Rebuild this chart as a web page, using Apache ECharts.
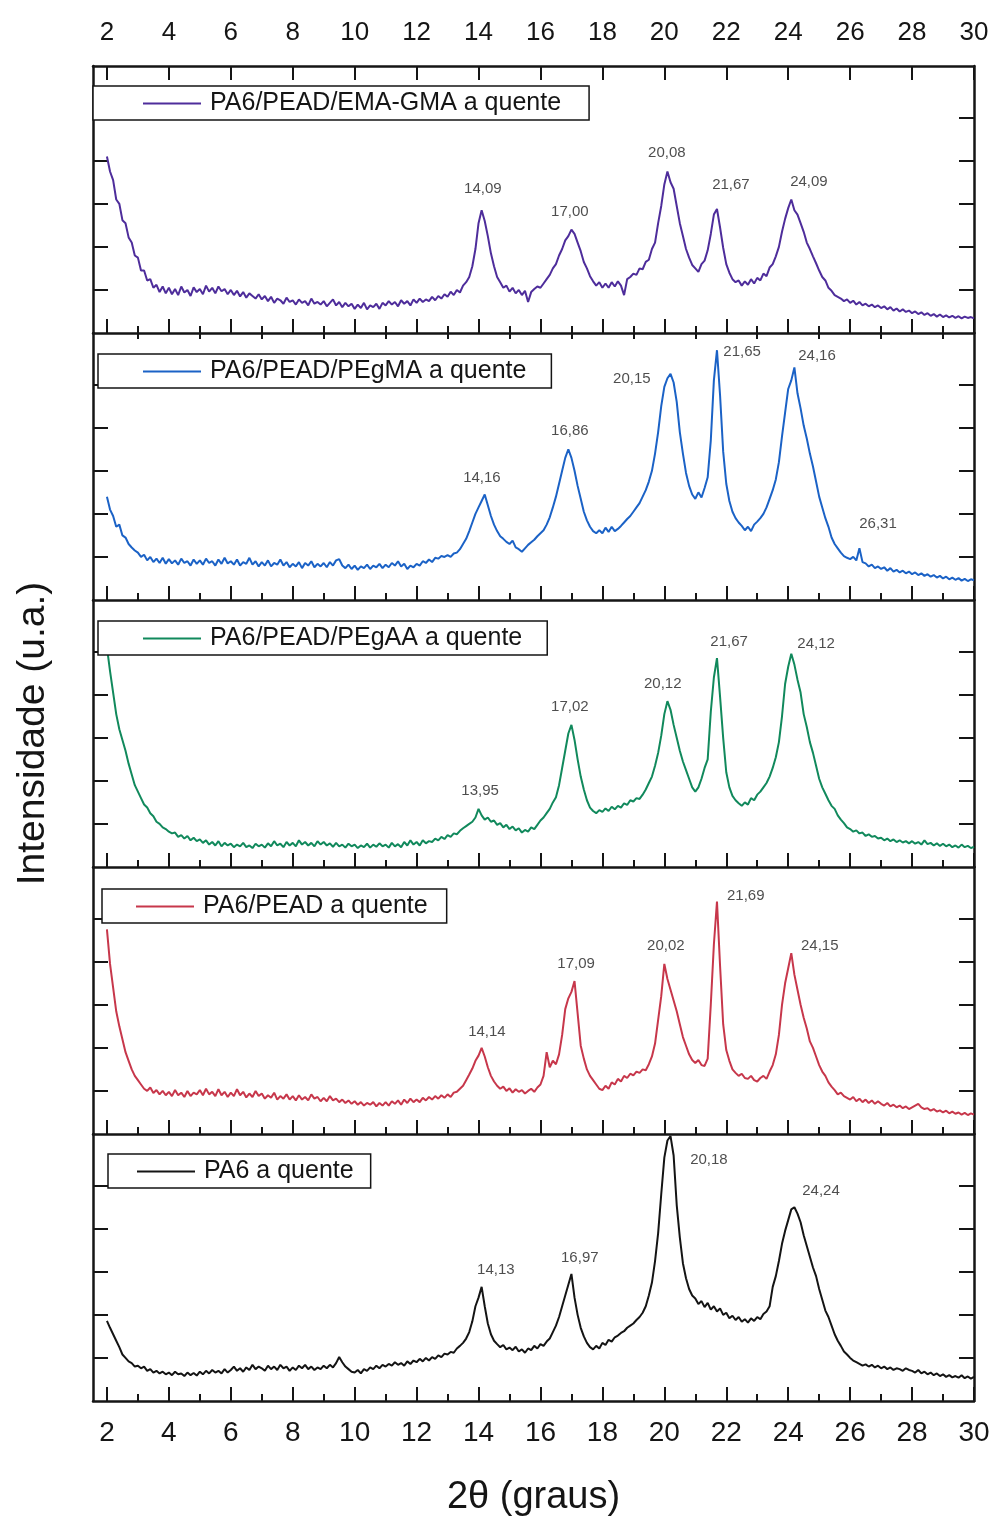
<!DOCTYPE html>
<html>
<head>
<meta charset="utf-8">
<title>DRX PA6 / PEAD</title>
<script src="https://cdn.jsdelivr.net/npm/echarts@6/dist/echarts.min.js"></script>
<style>
  html, body { margin: 0; padding: 0; background: #fff; }
  #chart { width: 1001px; height: 1521px; }
</style>
</head>
<body>
<div id="chart"></div>
<script>
// 2theta sampling of every pattern: 2.0, 2.1 ... 30.0
var thetaStart = 2.0;
var thetaStep = 0.1;

var seriesNames = [
    'PA6/PEAD/EMA-GMA a quente',
    'PA6/PEAD/PEgMA a quente',
    'PA6/PEAD/PEgAA a quente',
    'PA6/PEAD a quente',
    'PA6 a quente'
];

// intensities (u.a.), one value per 0.1 deg, rows = 2,3,...,29 deg, then 30
var emaGma = [
    4.10, 3.75, 3.55, 3.10, 3.00, 2.62, 2.55, 2.22, 2.10, 1.80,
    1.75, 1.45, 1.45, 1.22, 1.25, 1.05, 1.12, 0.95, 1.08, 0.92,
    1.05, 0.90, 1.02, 0.88, 1.08, 0.94, 1.00, 0.86, 1.06, 0.95,
    1.02, 0.90, 1.10, 0.96, 1.05, 0.92, 1.08, 0.97, 1.02, 0.90,
    1.00, 0.88, 0.98, 0.85, 0.95, 0.82, 0.92, 0.86, 0.80, 0.90,
    0.78, 0.86, 0.74, 0.84, 0.70, 0.80, 0.76, 0.68, 0.82, 0.72,
    0.76, 0.66, 0.78, 0.70, 0.74, 0.64, 0.80, 0.68, 0.72, 0.66,
    0.74, 0.62, 0.70, 0.78, 0.64, 0.72, 0.60, 0.70, 0.62, 0.68,
    0.56, 0.66, 0.58, 0.70, 0.55, 0.64, 0.60, 0.68, 0.56, 0.70,
    0.64, 0.74, 0.66, 0.72, 0.62, 0.76, 0.68, 0.74, 0.64, 0.78,
    0.70, 0.80, 0.72, 0.78, 0.74, 0.84, 0.76, 0.86, 0.80, 0.90,
    0.84, 0.96, 0.88, 1.00, 0.94, 1.10, 1.18, 1.30, 1.55, 1.95,
    2.55, 2.85, 2.60, 2.25, 1.85, 1.55, 1.30, 1.18, 1.05, 1.10,
    0.96, 1.05, 0.92, 1.00, 0.88, 0.98, 0.72, 0.95, 1.02, 1.08,
    1.05, 1.15, 1.25, 1.35, 1.50, 1.60, 1.80, 1.95, 2.15, 2.25,
    2.40, 2.30, 2.10, 1.90, 1.65, 1.50, 1.32, 1.20, 1.10, 1.18,
    1.05, 1.15, 1.05, 1.18, 1.08, 1.20, 1.10, 0.88, 1.25, 1.30,
    1.38, 1.35, 1.50, 1.48, 1.65, 1.70, 1.95, 2.10, 2.55, 2.95,
    3.45, 3.75, 3.50, 3.35, 2.95, 2.55, 2.25, 1.95, 1.75, 1.58,
    1.50, 1.42, 1.60, 1.68, 1.92, 2.30, 2.75, 2.88, 2.45, 1.98,
    1.60, 1.40, 1.25, 1.18, 1.22, 1.10, 1.20, 1.12, 1.25, 1.15,
    1.28, 1.22, 1.38, 1.32, 1.52, 1.60, 1.78, 2.00, 2.35, 2.65,
    2.90, 3.10, 2.85, 2.75, 2.55, 2.35, 2.10, 1.95, 1.78, 1.62,
    1.45, 1.30, 1.22, 1.05, 0.98, 0.88, 0.84, 0.80, 0.74, 0.78,
    0.70, 0.75, 0.66, 0.72, 0.64, 0.68, 0.62, 0.66, 0.60, 0.64,
    0.58, 0.62, 0.55, 0.60, 0.52, 0.57, 0.50, 0.55, 0.49, 0.52,
    0.46, 0.50, 0.44, 0.48, 0.42, 0.46, 0.40, 0.44, 0.38, 0.43,
    0.37, 0.41, 0.36, 0.40, 0.35, 0.39, 0.34, 0.38, 0.35, 0.37,
    0.34
];

var peGma = [
    2.40, 2.10, 1.95, 1.70, 1.75, 1.50, 1.45, 1.30, 1.22, 1.15,
    1.10, 1.00, 1.05, 0.92, 1.00, 0.88, 0.96, 0.86, 0.98, 0.84,
    0.95, 0.85, 0.92, 0.82, 0.96, 0.86, 0.90, 0.80, 0.94, 0.84,
    0.92, 0.82, 0.96, 0.86, 0.90, 0.80, 0.94, 0.84, 0.98, 0.85,
    0.90, 0.82, 0.94, 0.80, 0.88, 0.84, 0.98, 0.82, 0.90, 0.78,
    0.88, 0.80, 0.92, 0.78, 0.86, 0.82, 0.94, 0.80, 0.88, 0.76,
    0.84, 0.78, 0.88, 0.74, 0.86, 0.80, 0.90, 0.76, 0.84, 0.78,
    0.86, 0.76, 0.88, 0.80, 0.92, 0.95, 0.80, 0.74, 0.82, 0.72,
    0.80, 0.70, 0.78, 0.74, 0.82, 0.72, 0.80, 0.76, 0.84, 0.74,
    0.82, 0.76, 0.86, 0.80, 0.90, 0.78, 0.84, 0.72, 0.80, 0.76,
    0.84, 0.80, 0.90, 0.86, 0.94, 0.88, 0.98, 0.96, 1.02, 1.00,
    1.04, 1.00, 1.08, 1.10, 1.18, 1.30, 1.42, 1.60, 1.80, 2.00,
    2.15, 2.30, 2.45, 2.20, 1.95, 1.75, 1.60, 1.48, 1.42, 1.35,
    1.30, 1.38, 1.22, 1.18, 1.12, 1.20, 1.28, 1.34, 1.40, 1.48,
    1.55, 1.62, 1.75, 1.92, 2.15, 2.40, 2.70, 3.00, 3.30, 3.50,
    3.30, 3.00, 2.65, 2.35, 2.05, 1.85, 1.70, 1.60, 1.55, 1.62,
    1.55, 1.68, 1.58, 1.70, 1.60, 1.65, 1.72, 1.80, 1.88, 1.95,
    2.05, 2.15, 2.25, 2.40, 2.55, 2.75, 3.00, 3.40, 3.90, 4.50,
    4.95, 5.15, 5.25, 5.05, 4.60, 3.90, 3.40, 2.95, 2.65, 2.45,
    2.35, 2.50, 2.38, 2.60, 2.85, 3.70, 5.10, 5.80, 4.75, 3.45,
    2.70, 2.30, 2.05, 1.90, 1.80, 1.72, 1.62, 1.70, 1.60, 1.75,
    1.82, 1.90, 2.00, 2.15, 2.35, 2.55, 2.80, 3.20, 3.80, 4.35,
    4.90, 5.10, 5.40, 4.80, 4.45, 4.05, 3.75, 3.40, 3.10, 2.75,
    2.40, 2.15, 1.90, 1.70, 1.45, 1.30, 1.20, 1.10, 1.02, 0.98,
    0.95, 1.00, 0.92, 1.20, 0.88, 0.85, 0.78, 0.82, 0.74, 0.78,
    0.72, 0.76, 0.68, 0.74, 0.66, 0.70, 0.64, 0.68, 0.62, 0.66,
    0.60, 0.64, 0.58, 0.62, 0.56, 0.60, 0.54, 0.58, 0.52, 0.56,
    0.50, 0.54, 0.48, 0.52, 0.47, 0.51, 0.45, 0.49, 0.44, 0.48,
    0.46
];

var peGaa = [
    5.10, 4.55, 4.05, 3.55, 3.20, 2.95, 2.70, 2.40, 2.15, 1.90,
    1.75, 1.60, 1.45, 1.38, 1.25, 1.18, 1.05, 1.00, 0.92, 0.88,
    0.82, 0.78, 0.80, 0.70, 0.74, 0.66, 0.72, 0.62, 0.68, 0.60,
    0.64, 0.56, 0.62, 0.52, 0.58, 0.50, 0.60, 0.48, 0.56, 0.50,
    0.54, 0.46, 0.52, 0.48, 0.56, 0.46, 0.50, 0.44, 0.54, 0.48,
    0.52, 0.45, 0.55, 0.48, 0.60, 0.50, 0.54, 0.46, 0.58, 0.50,
    0.56, 0.48, 0.62, 0.52, 0.58, 0.50, 0.56, 0.48, 0.60, 0.52,
    0.58, 0.50, 0.55, 0.47, 0.56, 0.48, 0.52, 0.45, 0.54, 0.48,
    0.52, 0.44, 0.50, 0.46, 0.54, 0.45, 0.52, 0.47, 0.55, 0.48,
    0.52, 0.45, 0.56, 0.48, 0.53, 0.46, 0.58, 0.50, 0.62, 0.52,
    0.58, 0.50, 0.62, 0.55, 0.60, 0.58, 0.66, 0.62, 0.70, 0.65,
    0.74, 0.70, 0.78, 0.76, 0.84, 0.90, 0.95, 1.00, 1.05, 1.15,
    1.35, 1.20, 1.10, 1.15, 1.05, 1.08, 0.98, 1.02, 0.92, 0.98,
    0.88, 0.94, 0.85, 0.90, 0.80, 0.86, 0.82, 0.92, 0.88, 0.98,
    1.08, 1.15, 1.25, 1.35, 1.50, 1.62, 1.90, 2.30, 2.70, 3.10,
    3.30, 2.95, 2.50, 2.10, 1.80, 1.55, 1.38, 1.30, 1.25, 1.32,
    1.28, 1.36, 1.30, 1.40, 1.34, 1.42, 1.38, 1.48, 1.44, 1.55,
    1.52, 1.60, 1.58, 1.68, 1.80, 1.95, 2.10, 2.35, 2.65, 3.05,
    3.55, 3.85, 3.65, 3.30, 3.00, 2.70, 2.45, 2.25, 2.05, 1.85,
    1.75, 1.85, 2.05, 2.30, 2.50, 3.60, 4.40, 4.85, 3.95, 3.00,
    2.20, 1.85, 1.65, 1.55, 1.48, 1.42, 1.50, 1.45, 1.60, 1.55,
    1.68, 1.75, 1.85, 1.95, 2.10, 2.30, 2.55, 2.90, 3.50, 4.25,
    4.65, 4.95, 4.70, 4.35, 4.05, 3.55, 3.25, 2.90, 2.65, 2.35,
    2.05, 1.85, 1.70, 1.55, 1.42, 1.35, 1.20, 1.10, 1.02, 0.92,
    0.88, 0.82, 0.85, 0.78, 0.80, 0.72, 0.76, 0.70, 0.72, 0.66,
    0.68, 0.62, 0.66, 0.60, 0.64, 0.58, 0.62, 0.57, 0.60, 0.55,
    0.60, 0.54, 0.58, 0.52, 0.62, 0.53, 0.56, 0.50, 0.55, 0.49,
    0.54, 0.48, 0.52, 0.46, 0.50, 0.45, 0.52, 0.46, 0.49, 0.44,
    0.47
];

var pa6Pead = [
    4.75, 3.95, 3.40, 2.85, 2.50, 2.20, 1.90, 1.70, 1.50, 1.35,
    1.25, 1.15, 1.05, 1.00, 1.08, 0.95, 1.02, 0.92, 1.00, 0.90,
    0.98, 0.88, 1.02, 0.90, 0.96, 0.86, 1.00, 0.88, 0.96, 0.92,
    1.02, 0.90, 1.05, 0.92, 0.98, 0.88, 1.04, 0.90, 0.98, 0.86,
    0.96, 0.88, 1.04, 0.90, 0.98, 0.85, 0.94, 0.86, 1.00, 0.88,
    0.94, 0.82, 0.90, 0.84, 0.96, 0.80, 0.88, 0.82, 0.92, 0.80,
    0.88, 0.78, 0.90, 0.80, 0.86, 0.78, 0.92, 0.82, 0.86, 0.76,
    0.84, 0.76, 0.88, 0.78, 0.82, 0.74, 0.80, 0.72, 0.78, 0.70,
    0.76, 0.68, 0.74, 0.66, 0.72, 0.68, 0.74, 0.64, 0.72, 0.66,
    0.74, 0.66, 0.76, 0.70, 0.78, 0.68, 0.80, 0.72, 0.82, 0.74,
    0.80, 0.74, 0.84, 0.78, 0.86, 0.80, 0.88, 0.82, 0.90, 0.84,
    0.92, 0.86, 0.96, 0.98, 1.05, 1.12, 1.25, 1.38, 1.52, 1.70,
    1.82, 2.00, 1.80, 1.55, 1.35, 1.22, 1.12, 1.05, 1.10, 1.00,
    1.06, 0.96, 1.04, 0.98, 1.02, 0.94, 1.00, 1.05, 0.98, 1.08,
    1.15, 1.35, 1.90, 1.55, 1.70, 1.62, 1.85, 2.30, 2.90, 3.15,
    3.30, 3.55, 2.80, 2.05, 1.75, 1.50, 1.35, 1.25, 1.15, 1.05,
    1.02, 1.12, 1.05, 1.20, 1.15, 1.28, 1.22, 1.35, 1.30, 1.40,
    1.36, 1.45, 1.42, 1.50, 1.48, 1.62, 1.80, 2.10, 2.65, 3.20,
    3.95, 3.60, 3.35, 3.10, 2.85, 2.55, 2.25, 2.05, 1.85, 1.72,
    1.65, 1.72, 1.60, 1.58, 1.75, 3.00, 4.40, 5.40, 3.90, 2.55,
    1.95, 1.70, 1.50, 1.42, 1.35, 1.40, 1.30, 1.28, 1.35, 1.25,
    1.22, 1.30, 1.35, 1.28, 1.45, 1.60, 1.85, 2.30, 3.00, 3.50,
    3.85, 4.20, 3.70, 3.35, 3.00, 2.70, 2.45, 2.15, 2.00, 1.80,
    1.60, 1.45, 1.35, 1.20, 1.10, 1.02, 0.92, 0.96, 0.88, 0.84,
    0.80, 0.86, 0.76, 0.82, 0.74, 0.80, 0.72, 0.78, 0.70, 0.76,
    0.70, 0.66, 0.72, 0.64, 0.68, 0.62, 0.66, 0.60, 0.64, 0.58,
    0.62, 0.66, 0.70, 0.62, 0.58, 0.60, 0.54, 0.58, 0.52, 0.55,
    0.50, 0.54, 0.48, 0.52, 0.47, 0.50, 0.45, 0.49, 0.44, 0.48,
    0.45
];

var pa6 = [
    1.86, 1.70, 1.55, 1.40, 1.25, 1.08, 1.00, 0.92, 0.88, 0.80,
    0.82, 0.76, 0.80, 0.70, 0.74, 0.66, 0.70, 0.64, 0.68, 0.62,
    0.66, 0.60, 0.68, 0.62, 0.64, 0.58, 0.66, 0.60, 0.65, 0.59,
    0.68, 0.62, 0.70, 0.64, 0.72, 0.66, 0.70, 0.64, 0.74, 0.66,
    0.72, 0.80, 0.70, 0.76, 0.68, 0.78, 0.72, 0.84, 0.74, 0.80,
    0.76, 0.70, 0.82, 0.74, 0.80, 0.72, 0.84, 0.76, 0.80, 0.70,
    0.78, 0.72, 0.82, 0.76, 0.84, 0.74, 0.80, 0.72, 0.78, 0.74,
    0.82, 0.76, 0.84, 0.78, 0.88, 1.02, 0.90, 0.80, 0.74, 0.68,
    0.66, 0.72, 0.64, 0.74, 0.70, 0.78, 0.74, 0.82, 0.76, 0.84,
    0.80, 0.86, 0.82, 0.90, 0.84, 0.88, 0.82, 0.92, 0.86, 0.94,
    0.90, 0.98, 0.92, 1.00, 0.94, 1.02, 0.98, 1.06, 1.02, 1.10,
    1.08, 1.14, 1.12, 1.22, 1.28, 1.35, 1.45, 1.60, 1.85, 2.20,
    2.40, 2.65, 2.20, 1.80, 1.55, 1.40, 1.32, 1.25, 1.30, 1.20,
    1.24, 1.18, 1.26, 1.15, 1.20, 1.12, 1.22, 1.18, 1.28, 1.22,
    1.32, 1.28, 1.38, 1.45, 1.60, 1.75, 1.95, 2.20, 2.45, 2.70,
    2.95, 2.40, 2.00, 1.70, 1.50, 1.35, 1.25, 1.20, 1.28, 1.22,
    1.35, 1.30, 1.42, 1.38, 1.48, 1.52, 1.58, 1.62, 1.70, 1.75,
    1.80, 1.88, 1.95, 2.05, 2.20, 2.45, 2.75, 3.25, 3.90, 4.80,
    5.65, 6.05, 6.15, 5.70, 4.55, 3.80, 3.20, 2.85, 2.60, 2.45,
    2.38, 2.25, 2.32, 2.18, 2.28, 2.12, 2.20, 2.08, 2.15, 2.00,
    2.05, 1.92, 1.98, 1.88, 1.95, 1.84, 1.90, 1.82, 1.92, 1.86,
    1.95, 1.90, 2.02, 2.08, 2.20, 2.65, 2.90, 3.25, 3.65, 3.95,
    4.20, 4.45, 4.50, 4.35, 4.15, 3.85, 3.60, 3.35, 3.10, 2.90,
    2.60, 2.35, 2.10, 1.95, 1.75, 1.55, 1.40, 1.28, 1.15, 1.08,
    1.00, 0.94, 0.90, 0.86, 0.82, 0.85, 0.80, 0.84, 0.78, 0.82,
    0.76, 0.80, 0.74, 0.78, 0.72, 0.76, 0.74, 0.70, 0.76, 0.72,
    0.70, 0.66, 0.72, 0.64, 0.68, 0.62, 0.66, 0.60, 0.64, 0.58,
    0.62, 0.56, 0.60, 0.55, 0.58, 0.54, 0.60, 0.53, 0.57, 0.52,
    0.56
];

var patterns = [emaGma, peGma, peGaa, pa6Pead, pa6];

// peak annotations: [text, 2theta of label, height of label]
var peaks1 = [['14,09', 14.14, 3.34], ['17,00', 16.95, 2.81], ['20,08', 20.08, 4.18], ['21,67', 22.15, 3.44], ['24,09', 24.67, 3.51]];
var peaks2 = [['14,16', 14.11, 2.83], ['16,86', 16.95, 3.92], ['20,15', 18.95, 5.13], ['21,65', 22.51, 5.76], ['24,16', 24.93, 5.67], ['26,31', 26.90, 1.76]];
var peaks3 = [['13,95', 14.05, 1.76], ['17,02', 16.95, 3.72], ['20,12', 19.95, 4.25], ['21,67', 22.09, 5.23], ['24,12', 24.90, 5.18]];
var peaks4 = [['14,14', 14.27, 2.37], ['17,09', 17.15, 3.95], ['20,02', 20.05, 4.37], ['21,69', 22.63, 5.53], ['24,15', 25.02, 4.37]];
var peaks5 = [['14,13', 14.56, 3.04], ['16,97', 17.27, 3.32], ['20,18', 21.44, 5.60], ['24,24', 25.06, 4.88]];
var peakSets = [peaks1, peaks2, peaks3, peaks4, peaks5];

var majorTicks = [2, 4, 6, 8, 10, 12, 14, 16, 18, 20, 22, 24, 26, 28, 30];
var minorTicks = [3, 5, 7, 9, 11, 13, 15, 17, 19, 21, 23, 25, 27, 29];
var intensityTicks = [1, 2, 3, 4, 5];

// styles / layout
var lineColors = ['#4e2d9b', '#1b62c6', '#11895c', '#c7374b', '#141414'];
var INK = '#151515';
var FONT = '"Liberation Sans", Arial, Helvetica, sans-serif';
var X_MIN = 1.55, X_MAX = 30;
var Y_MAX = 6.2;
var PANEL_TOP = 66, PANEL_H = 267;
// legend boxes: left, top, left padding, right padding
var legendBoxes = [[93, 86, 50, 28], [98, 354, 45, 25], [98, 621, 45, 25], [102, 889, 34, 19], [108, 1154, 29, 17]];

function toPairs(values) {
    var out = [];
    for (var i = 0; i < values.length; i++) {
        out.push([+(thetaStart + i * thetaStep).toFixed(2), values[i]]);
    }
    return out;
}

var chart = echarts.init(document.getElementById('chart'), null, { renderer: 'canvas' });

var grids = [], xAxes = [], yAxes = [], series = [], legends = [];
for (var i = 0; i < 5; i++) {
    grids.push({ left: 93, right: 27, top: PANEL_TOP + i * PANEL_H, height: PANEL_H });

    var last = (i === 4);
    var xMain = xAxes.length;
    xAxes.push({
        type: 'value', gridIndex: i, position: 'bottom', min: X_MIN, max: X_MAX,
        name: last ? '2\u03b8 (graus)' : '',
        nameLocation: 'middle', nameGap: 78,
        nameTextStyle: { fontFamily: FONT, fontSize: 38, color: INK },
        axisLine: { show: true, onZero: false, lineStyle: { color: INK, width: 2.5 } },
        axisTick: { show: true, inside: true, length: 14, customValues: majorTicks, lineStyle: { color: INK, width: 2 } },
        axisLabel: { show: last, customValues: majorTicks, margin: 18, fontFamily: FONT, fontSize: 28, color: INK },
        splitLine: { show: false }
    });
    xAxes.push({
        type: 'value', gridIndex: i, position: 'bottom', min: X_MIN, max: X_MAX,
        axisLine: { show: false },
        axisTick: { show: true, inside: true, length: 7, customValues: minorTicks, lineStyle: { color: INK, width: 2 } },
        axisLabel: { show: false },
        splitLine: { show: false }
    });

    var yMain = yAxes.length;
    yAxes.push({
        type: 'value', gridIndex: i, position: 'left', min: 0, max: Y_MAX,
        name: i === 2 ? 'Intensidade (u.a.)' : '',
        nameLocation: 'middle', nameGap: 40,
        nameTextStyle: { fontFamily: FONT, fontSize: 39, color: INK },
        axisLine: { show: true, onZero: false, lineStyle: { color: INK, width: 2.5 } },
        axisTick: { show: true, inside: true, length: 15, customValues: intensityTicks, lineStyle: { color: INK, width: 2 } },
        axisLabel: { show: false },
        splitLine: { show: false }
    });
    yAxes.push({
        type: 'value', gridIndex: i, position: 'right', min: 0, max: Y_MAX,
        axisLine: { show: true, onZero: false, lineStyle: { color: INK, width: 2.5 } },
        axisTick: { show: true, inside: true, length: 15, customValues: intensityTicks, lineStyle: { color: INK, width: 2 } },
        axisLabel: { show: false },
        splitLine: { show: false }
    });

    series.push({
        name: seriesNames[i],
        type: 'line',
        xAxisIndex: xMain,
        yAxisIndex: yMain,
        data: toPairs(patterns[i]),
        symbol: 'none',
        lineStyle: { color: lineColors[i], width: 2 },
        itemStyle: { color: lineColors[i] },
        z: 3
    });

    series.push({
        name: 'picos ' + (i + 1),
        type: 'scatter',
        xAxisIndex: xMain,
        yAxisIndex: yMain,
        symbolSize: 1,
        itemStyle: { color: 'rgba(0,0,0,0)' },
        silent: true,
        label: {
            show: true, position: 'inside', formatter: '{b}',
            fontFamily: FONT, fontSize: 15, color: '#222'
        },
        data: peakSets[i].map(function (p) { return { name: p[0], value: [p[1], p[2]] }; }),
        z: 4
    });

    var lb = legendBoxes[i];
    legends.push({
        data: [{ name: seriesNames[i], icon: 'rect' }],
        left: lb[0], top: lb[1],
        padding: [5, lb[3], 4, lb[2]],
        itemWidth: 58, itemHeight: 2,
        borderColor: INK, borderWidth: 1.5,
        backgroundColor: '#fff',
        selectedMode: false,
        textStyle: { fontFamily: FONT, fontSize: 25, color: INK, padding: [0, 0, 0, 4] }
    });
}

// top axis of the first panel (labels + inward ticks)
xAxes.push({
    type: 'value', gridIndex: 0, position: 'top', min: X_MIN, max: X_MAX,
    axisLine: { show: true, onZero: false, lineStyle: { color: INK, width: 2.5 } },
    axisTick: { show: true, inside: true, length: 14, customValues: majorTicks, lineStyle: { color: INK, width: 2 } },
    axisLabel: { show: true, customValues: majorTicks, margin: 20, fontFamily: FONT, fontSize: 26, color: INK },
    splitLine: { show: false }
});
xAxes.push({
    type: 'value', gridIndex: 0, position: 'top', min: X_MIN, max: X_MAX,
    axisLine: { show: false },
    axisTick: { show: true, inside: true, length: 6, customValues: minorTicks, lineStyle: { color: INK, width: 2 } },
    axisLabel: { show: false },
    splitLine: { show: false }
});

var option = {
    backgroundColor: '#fff',
    animation: false,
    textStyle: { fontFamily: FONT },
    grid: grids,
    xAxis: xAxes,
    yAxis: yAxes,
    legend: legends,
    series: series
};

chart.setOption(option);
</script>
</body>
</html>
